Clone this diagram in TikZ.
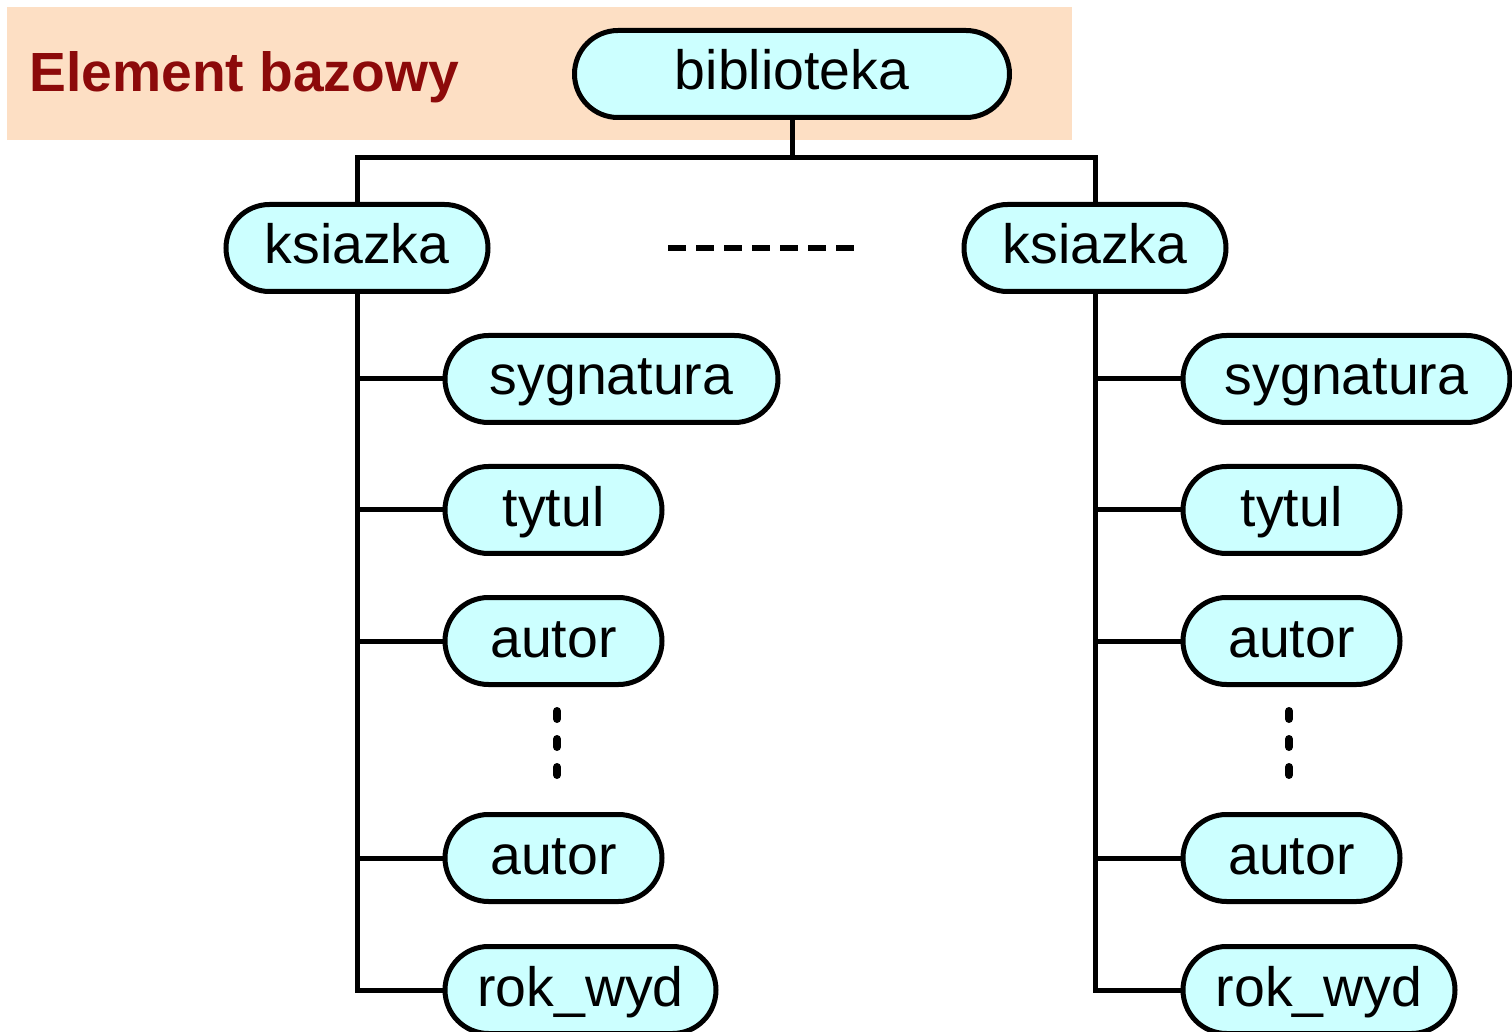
\documentclass[tikz,border=0pt]{standalone}
\usepackage{fontspec}
\setmainfont{Liberation Sans}
\usetikzlibrary{shapes.misc}
\definecolor{peach}{RGB}{253,223,196}
\definecolor{nodecyan}{RGB}{204,255,255}
\definecolor{darkred}{RGB}{140,10,10}
\tikzset{
  elem/.style={rounded rectangle, draw=black, fill=nodecyan, line width=2.5pt,
    minimum height=43.5pt, inner xsep=0pt, inner ysep=0pt,
    font=\fontsize{27.7}{30}\selectfont, text height=20pt, text depth=4pt},
  conn/.style={line width=2.5pt, line cap=rect},
  dotsh/.style={line width=3.2pt, dash pattern=on 9pt off 5pt},
  dotsv/.style={line width=4pt, line cap=round, dash pattern=on 4pt off 10pt}
}
\begin{document}
\begin{tikzpicture}[x=0.5pt,y=-0.5pt]
\useasboundingbox (0,0) rectangle (1512,1032);
\fill[peach] (7,7) rectangle (1072,140);
\node[anchor=base west, text=darkred, font=\fontsize{27.6}{30}\selectfont\bfseries, inner sep=0pt] (title) at (29,92) {Element bazowy};

\node[elem, minimum width=217.5pt] (b) at (792,74) {biblioteka};
\node[elem, minimum width=131pt] (k1) at (357,248) {ksiazka};
\node[elem, minimum width=131pt] (k2) at (1095,248) {ksiazka};

% left children
\node[elem, minimum width=166.5pt] (s1) at (611.5,379) {sygnatura};
\node[elem, minimum width=108.5pt] (t1) at (553.5,510) {tytul};
\node[elem, minimum width=108.5pt] (a1) at (553.5,641) {autor};
\node[elem, minimum width=108.5pt] (aa1) at (553.5,858) {autor};
\node[elem, minimum width=135.5pt] (r1) at (580.5,990) {rok\_wyd};

% right children
\node[elem, minimum width=163.5pt] (s2) at (1346.5,379) {sygnatura};
\node[elem, minimum width=108.5pt] (t2) at (1291.5,510) {tytul};
\node[elem, minimum width=108.5pt] (a2) at (1291.5,641) {autor};
\node[elem, minimum width=108.5pt] (aa2) at (1291.5,858) {autor};
\node[elem, minimum width=136pt] (r2) at (1319,990) {rok\_wyd};

% top connectors
\coordinate (j) at (792,158);
\draw[conn] (b.south) -- (j);
\draw[line width=2.5pt] (k1.north) |- (j) -| (k2.north);

% left trunk
\draw[line width=2.5pt] (k1.south) |- (r1.west);
\draw[conn] (k1.south |- s1.west) -- (s1.west);
\draw[conn] (k1.south |- t1.west) -- (t1.west);
\draw[conn] (k1.south |- a1.west) -- (a1.west);
\draw[conn] (k1.south |- aa1.west) -- (aa1.west);

% right trunk
\draw[line width=2.5pt] (k2.south) |- (r2.west);
\draw[conn] (k2.south |- s2.west) -- (s2.west);
\draw[conn] (k2.south |- t2.west) -- (t2.west);
\draw[conn] (k2.south |- a2.west) -- (a2.west);
\draw[conn] (k2.south |- aa2.west) -- (aa2.west);

% ellipses
\coordinate (dh1) at (668,248);
\coordinate (dh2) at (860,248);
\draw[dotsh] (dh1) -- (dh2);
\coordinate (dv1) at (557,711);
\coordinate (dv2) at (557,776);
\draw[dotsv] (dv1) -- (dv2);
\coordinate (dv3) at (1289,711);
\coordinate (dv4) at (1289,776);
\draw[dotsv] (dv3) -- (dv4);
\end{tikzpicture}
\end{document}
